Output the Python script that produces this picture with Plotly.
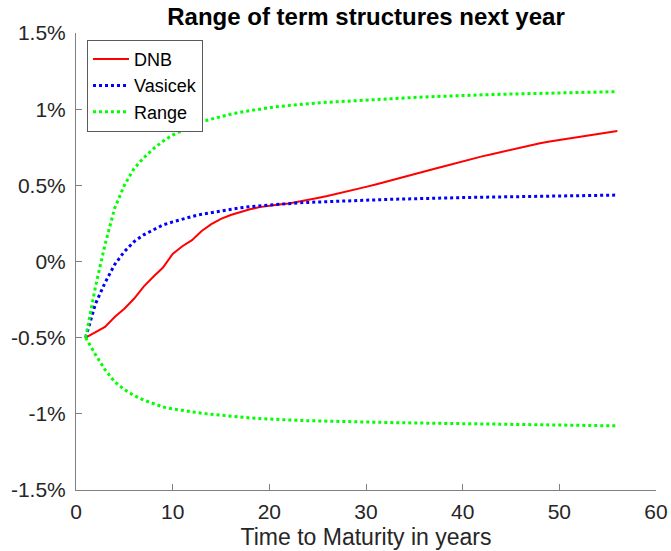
import plotly.graph_objects as go

# Maturities (years)
maturity = list(range(1, 57))

# Yield curves, in percent
dnb = [-0.50, -0.465, -0.43, -0.365, -0.31, -0.245, -0.165, -0.10, -0.04, 0.05,
       0.10, 0.14, 0.20, 0.245, 0.28, 0.305, 0.325, 0.343, 0.357, 0.367,
       0.374, 0.381, 0.392, 0.405, 0.417, 0.430, 0.444, 0.459, 0.475, 0.490,
       0.506, 0.522, 0.539, 0.555, 0.572, 0.589, 0.607, 0.624, 0.641, 0.658,
       0.676, 0.690, 0.704, 0.719, 0.733, 0.748, 0.762, 0.776, 0.787, 0.797,
       0.807, 0.817, 0.827, 0.837, 0.847, 0.857]

vasicek = [-0.50, -0.28, -0.14, -0.02, 0.065, 0.13, 0.175, 0.21, 0.24, 0.26,
           0.28, 0.295, 0.31, 0.32, 0.335, 0.345, 0.352, 0.36, 0.366, 0.372,
           0.377, 0.381, 0.385, 0.388, 0.391, 0.394, 0.396, 0.399, 0.401, 0.403,
           0.405, 0.407, 0.409, 0.411, 0.413, 0.414, 0.416, 0.417, 0.419, 0.420,
           0.421, 0.422, 0.423, 0.424, 0.425, 0.426, 0.427, 0.428, 0.429, 0.430,
           0.431, 0.432, 0.433, 0.434, 0.435, 0.436]

range_upper = [-0.50, -0.17, 0.11, 0.35, 0.50, 0.61, 0.68, 0.74, 0.79, 0.83,
               0.86, 0.89, 0.915, 0.935, 0.952, 0.967, 0.98, 0.991, 1.001, 1.01,
               1.018, 1.025, 1.031, 1.036, 1.041, 1.045, 1.049, 1.053, 1.057, 1.061,
               1.065, 1.068, 1.071, 1.074, 1.077, 1.080, 1.083, 1.085, 1.088, 1.090,
               1.092, 1.094, 1.096, 1.098, 1.099, 1.101, 1.102, 1.104, 1.105, 1.107,
               1.108, 1.109, 1.111, 1.112, 1.113, 1.115]

range_lower = [-0.50, -0.61, -0.71, -0.79, -0.84, -0.88, -0.91, -0.935, -0.955, -0.968,
               -0.978, -0.988, -0.996, -1.003, -1.010, -1.017, -1.022, -1.027, -1.031, -1.035,
               -1.038, -1.041, -1.043, -1.045, -1.047, -1.049, -1.051, -1.052, -1.054, -1.055,
               -1.056, -1.057, -1.058, -1.059, -1.060, -1.061, -1.062, -1.063, -1.064, -1.065,
               -1.066, -1.067, -1.068, -1.069, -1.070, -1.071, -1.072, -1.073, -1.073, -1.074,
               -1.075, -1.076, -1.077, -1.077, -1.078, -1.079]

# Axis ticks
x_ticks = [0, 10, 20, 30, 40, 50, 60]
y_ticks = [-1.5, -1.0, -0.5, 0.0, 0.5, 1.0, 1.5]
y_tick_labels = ["-1.5%", "-1%", "-0.5%", "0%", "0.5%", "1%", "1.5%"]

FONT = "Liberation Sans, Arial, Helvetica, sans-serif"
AXIS_COLOR = "#808080"
TEXT_COLOR = "#262626"

fig = go.Figure()
fig.add_trace(go.Scatter(x=maturity, y=dnb, mode="lines", name="DNB",
                         line=dict(color="#ff0000", width=2)))
fig.add_trace(go.Scatter(x=maturity, y=vasicek, mode="lines", name="Vasicek",
                         line=dict(color="#0000ff", width=3, dash="3px,3px")))
fig.add_trace(go.Scatter(x=maturity, y=range_upper, mode="lines", name="Range",
                         line=dict(color="#00ff00", width=3, dash="3px,3px")))
fig.add_trace(go.Scatter(x=maturity, y=range_lower, mode="lines", name="Range",
                         showlegend=False,
                         line=dict(color="#00ff00", width=3, dash="3px,3px")))

fig.update_layout(
    width=671, height=551,
    margin=dict(l=76, r=15, t=33, b=61),
    paper_bgcolor="white", plot_bgcolor="white",
    font=dict(family=FONT, size=21, color=TEXT_COLOR),
    title=dict(text="<b>Range of term structures next year</b>",
               x=0.5, xref="paper", xanchor="center",
               y=1 - 17 / 551, yref="container", yanchor="middle",
               font=dict(size=24, color="#000000")),
    legend=dict(x=0.019, y=0.985, xanchor="left", yanchor="top",
                bgcolor="white", bordercolor="#5a5a5a", borderwidth=1,
                font=dict(size=18, color="#000000"),
                tracegroupgap=0, itemwidth=36),
    xaxis=dict(range=[0, 60], tickvals=x_ticks, showgrid=False, zeroline=False,
               showline=True, linecolor=AXIS_COLOR, linewidth=1,
               ticks="inside", ticklen=6, tickcolor=AXIS_COLOR,
               ticklabelstandoff=3, automargin=False,
               tickfont=dict(size=21, color=TEXT_COLOR),
               title=dict(text="Time to Maturity in years", standoff=6,
                          font=dict(size=23, color=TEXT_COLOR))),
    yaxis=dict(range=[-1.5, 1.5], tickvals=y_ticks, ticktext=y_tick_labels,
               showgrid=False, zeroline=False, automargin=False,
               showline=True, linecolor=AXIS_COLOR, linewidth=1,
               ticks="inside", ticklen=6, tickcolor=AXIS_COLOR,
               ticklabelstandoff=5,
               tickfont=dict(size=21, color=TEXT_COLOR)),
)

fig.write_html("out.html")
